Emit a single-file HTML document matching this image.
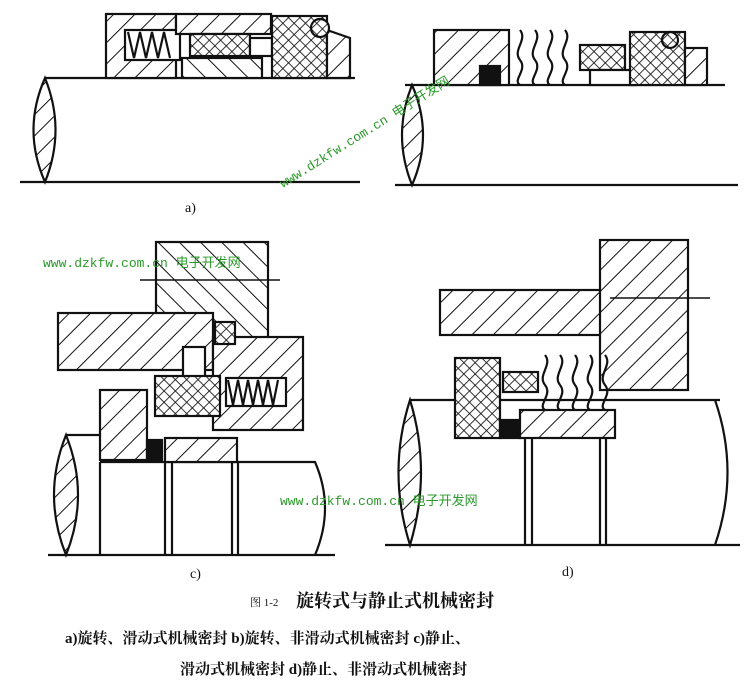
<!DOCTYPE html>
<html><head><meta charset="utf-8"><style>
html,body{margin:0;padding:0;background:#fff;}
svg{display:block;}
.t{font-family:"Liberation Serif","Noto Serif CJK SC",serif;}
.w{font-family:"Liberation Mono","Noto Sans CJK SC",monospace;fill:#2a9a2a;font-size:13px;}
</style></head><body>
<svg width="744" height="692" viewBox="0 0 744 692" xmlns="http://www.w3.org/2000/svg">
<defs>
<pattern id="h" width="15" height="15" patternUnits="userSpaceOnUse" patternTransform="rotate(45)"><rect width="15" height="15" fill="#fff"/><line x1="0" y1="0" x2="0" y2="15" stroke="#111" stroke-width="2"/></pattern>
<pattern id="h2" width="15" height="15" patternUnits="userSpaceOnUse" patternTransform="rotate(-45)"><rect width="15" height="15" fill="#fff"/><line x1="0" y1="0" x2="0" y2="15" stroke="#111" stroke-width="2"/></pattern>
<pattern id="x" width="8" height="8" patternUnits="userSpaceOnUse" patternTransform="rotate(45)"><rect width="8" height="8" fill="#fff"/><line x1="0" y1="0" x2="0" y2="8" stroke="#111" stroke-width="1.7"/><line x1="0" y1="0" x2="8" y2="0" stroke="#111" stroke-width="1.7"/></pattern>
</defs>
<g stroke="#111" stroke-width="2.2" fill="none">
<!-- a -->
<line x1="20" y1="182" x2="360" y2="182"/>
<line x1="45" y1="78" x2="355" y2="78"/>
<path d="M45 78 Q22 130 45 182 Q66 130 45 78Z" fill="url(#h)"/>
<rect x="106" y="14" width="70" height="64" fill="url(#h)"/>
<rect x="125" y="30" width="55" height="30" fill="#fff"/>
<path d="M128 32 l6 26 l6 -26 l6 26 l6 -26 l6 26 l6 -26 l6 26"/>
<rect x="176" y="14" width="95" height="20" fill="url(#h)"/>
<rect x="190" y="34" width="60" height="22" fill="url(#x)"/>
<rect x="250" y="38" width="22" height="18" fill="#fff"/>
<rect x="272" y="16" width="55" height="62" fill="url(#x)"/>
<path d="M327 30 L350 38 L350 78 L327 78Z" fill="url(#h)"/>
<circle cx="320" cy="28" r="9" fill="url(#x)"/>
<circle cx="212" cy="66" r="8" fill="#fff"/>
<rect x="182" y="58" width="80" height="20" fill="url(#h2)"/>
<!-- b -->
<line x1="395" y1="185" x2="738" y2="185"/>
<line x1="405" y1="85" x2="725" y2="85"/>
<path d="M412 85 Q392 135 412 185 Q434 135 412 85Z" fill="url(#h)"/>
<rect x="434" y="30" width="75" height="55" fill="url(#h)"/>
<rect x="480" y="66" width="20" height="19" fill="#111"/>
<path d="M520 30 c8 10 -8 20 0 30 c8 10 -8 20 0 25 M535 30 c8 10 -8 20 0 30 c8 10 -8 20 0 25 M550 30 c8 10 -8 20 0 30 c8 10 -8 20 0 25 M565 30 c8 10 -8 20 0 30 c8 10 -8 20 0 25"/>
<rect x="580" y="45" width="45" height="25" fill="url(#x)"/>
<rect x="590" y="70" width="45" height="15" fill="#fff"/>
<rect x="630" y="32" width="55" height="53" fill="url(#x)"/>
<rect x="685" y="48" width="22" height="37" fill="url(#h)"/>
<circle cx="670" cy="40" r="8" fill="url(#x)"/>
<!-- c -->
<line x1="48" y1="555" x2="335" y2="555"/>
<line x1="100" y1="462" x2="305" y2="462"/>
<path d="M66 435 Q42 495 66 555 Q90 495 66 435Z" fill="url(#h)"/>
<line x1="66" y1="435" x2="100" y2="435"/>
<path d="M305 462 L315 462 Q335 508 315 555"/>
<line x1="100" y1="462" x2="100" y2="555"/>
<line x1="165" y1="462" x2="165" y2="555"/><line x1="172" y1="462" x2="172" y2="555"/>
<line x1="232" y1="462" x2="232" y2="555"/><line x1="238" y1="462" x2="238" y2="555"/>
<rect x="156" y="242" width="112" height="96" fill="url(#h2)"/>
<line x1="140" y1="280" x2="280" y2="280" stroke-width="1.5"/>
<rect x="58" y="313" width="155" height="57" fill="url(#h)"/>
<rect x="213" y="337" width="90" height="93" fill="url(#h)"/>
<rect x="226" y="378" width="60" height="28" fill="#fff"/>
<path d="M228 380 l5 25 l5 -25 l5 25 l5 -25 l5 25 l5 -25 l5 25 l5 -25 l5 25 l5 -25"/>
<rect x="183" y="347" width="22" height="30" fill="#fff"/>
<rect x="215" y="322" width="20" height="22" fill="url(#x)"/>
<rect x="155" y="376" width="65" height="40" fill="url(#x)"/>
<rect x="100" y="390" width="47" height="70" fill="url(#h)"/>
<rect x="165" y="438" width="72" height="24" fill="url(#h)"/>
<rect x="147" y="440" width="15" height="20" fill="#111"/>
<!-- d -->
<line x1="385" y1="545" x2="740" y2="545"/>
<line x1="410" y1="400" x2="720" y2="400"/>
<path d="M410 400 Q387 472 410 545 Q432 472 410 400Z" fill="url(#h)"/>
<path d="M715 400 Q740 472 715 545"/>
<rect x="440" y="290" width="200" height="45" fill="url(#h)"/>
<rect x="600" y="240" width="88" height="150" fill="url(#h)"/>
<line x1="610" y1="298" x2="710" y2="298" stroke-width="1.5"/>
<rect x="455" y="358" width="45" height="80" fill="url(#x)"/>
<rect x="503" y="372" width="35" height="20" fill="url(#x)"/>
<rect x="500" y="420" width="20" height="18" fill="#111"/>
<path d="M545 355 c8 10 -8 20 0 30 c8 10 -8 20 0 25 M560 355 c8 10 -8 20 0 30 c8 10 -8 20 0 25 M575 355 c8 10 -8 20 0 30 c8 10 -8 20 0 25 M590 355 c8 10 -8 20 0 30 c8 10 -8 20 0 25 M605 355 c8 10 -8 20 0 30 c8 10 -8 20 0 25"/>
<rect x="520" y="410" width="95" height="28" fill="url(#h)"/>
<line x1="525" y1="438" x2="525" y2="545"/><line x1="532" y1="438" x2="532" y2="545"/>
<line x1="600" y1="438" x2="600" y2="545"/><line x1="606" y1="438" x2="606" y2="545"/>
</g>
<g class="t" fill="#111">
<text x="185" y="212" font-size="14">a)</text>
<text x="190" y="578" font-size="14">c)</text>
<text x="562" y="576" font-size="14">d)</text>
<text x="250" y="606" font-size="11">图 1-2</text>
<text x="296" y="607" font-size="18" font-weight="bold">旋转式与静止式机械密封</text>
<text x="65" y="643" font-size="15" font-weight="bold">a)旋转、滑动式机械密封  b)旋转、非滑动式机械密封  c)静止、</text>
<text x="180" y="674" font-size="15" font-weight="bold">滑动式机械密封  d)静止、非滑动式机械密封</text>
</g>
<text class="w" x="43" y="267">www.dzkfw.com.cn 电子开发网</text>
<text class="w" x="280" y="505">www.dzkfw.com.cn 电子开发网</text>
<text class="w" x="0" y="0" transform="translate(283,188) rotate(-32)">www.dzkfw.com.cn 电子开发网</text>
</svg>
</body></html>
